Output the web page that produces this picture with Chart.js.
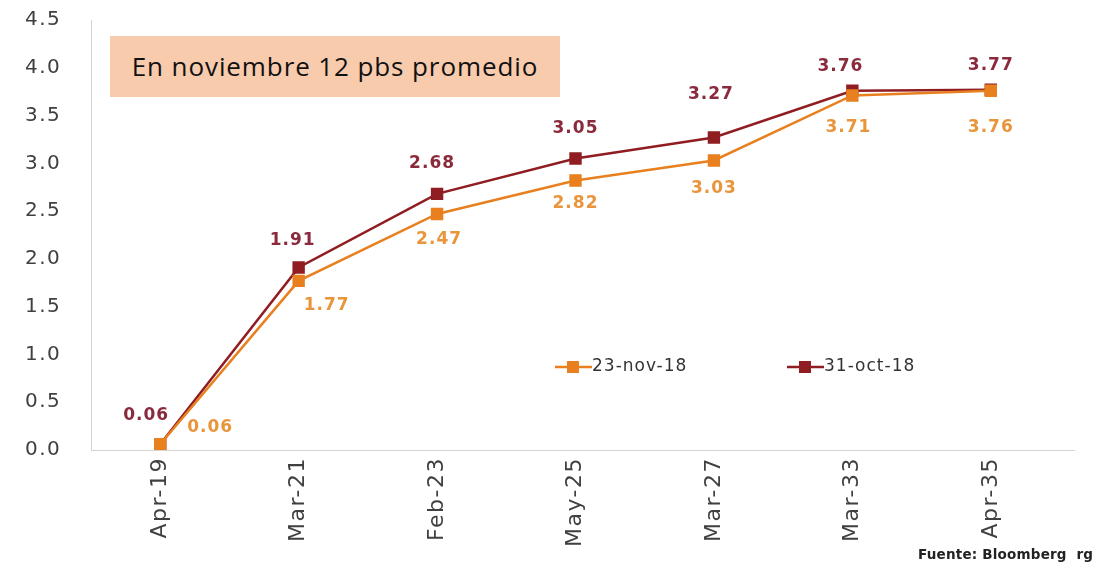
<html>
<head>
<meta charset="UTF-8">
<title>Curva de rendimientos</title>
<style>
  body { margin: 0; background: #fff; }
  #wrap { position: relative; width: 1101px; height: 568px; }
  #caja { position: absolute; left: 110px; top: 36px; width: 450px; height: 61px; background: #f8cbad;
          font-family: "Open Sans", sans-serif; font-size: 26px; color: #111; line-height: 61px; text-align: center;
          letter-spacing: 0.9px; }
  #fuente { position: absolute; left: 918px; top: 546px; font-family: "DejaVu Sans", sans-serif; font-weight: bold;
            font-size: 13.5px; color: #222; letter-spacing: 0.2px; }
</style>
</head>
<body>
<div id="wrap">
  <canvas id="myChart" width="1101" height="568"></canvas>
  <div id="caja">En noviembre 12 pbs promedio</div>
  <div id="fuente">Fuente: Bloomberg &nbsp;rg</div>
</div>

<script src="https://cdn.jsdelivr.net/npm/chart.js@4"></script>
<script>
// datos
var categorias = ['Apr-19', 'Mar-21', 'Feb-23', 'May-25', 'Mar-27', 'Mar-33', 'Apr-35'];
var nov23 = [0.06, 1.77, 2.47, 2.82, 3.03, 3.71, 3.76];
var oct31 = [0.06, 1.91, 2.68, 3.05, 3.27, 3.76, 3.77];
var serieNombres = ['23-nov-18', '31-oct-18'];

var naranja = '#e8801f';
var rojo = '#8f1d22';

// desplazamientos de las etiquetas (dx, dy) respecto al punto
var offNov = [[50, -17], [28, 25], [2, 26], [0, 23], [0, 28], [-4, 32], [0, 37]];
var offOct = [[-14, -29], [-6, -27], [-5, -30], [0, -30], [-3, -43], [-12, -24], [0, -24]];

// texto un poco mas ancho, como en la imagen original
var espaciado = {
  id: 'espaciado',
  beforeDraw: (chart) => { chart.ctx.letterSpacing = '1.5px'; }
};

var etiquetas = {
  id: 'etiquetas',
  afterDatasetsDraw: (chart) => {
    var ctx = chart.ctx;
    ctx.save();
    ctx.letterSpacing = '1px';
    ctx.font = 'bold 17px "DejaVu Sans"';
    ctx.textAlign = 'center';
    ctx.textBaseline = 'middle';
    [[0, offNov, '#e8953c'], [1, offOct, '#8a2a3c']].forEach(([i, offs, col]) => {
      var meta = chart.getDatasetMeta(i);
      ctx.fillStyle = col;
      meta.data.forEach((pt, j) => {
        var v = chart.data.datasets[i].data[j];
        ctx.fillText(v.toFixed(2), pt.x + offs[j][0], pt.y + offs[j][1]);
      });
    });
    // leyenda
    ctx.font = '17px "DejaVu Sans"';
    ctx.textAlign = 'left';
    [[555, naranja, serieNombres[0]], [787, rojo, serieNombres[1]]].forEach(([x, col, txt]) => {
      ctx.strokeStyle = col; ctx.lineWidth = 2.5;
      ctx.beginPath(); ctx.moveTo(x, 367); ctx.lineTo(x + 37, 367); ctx.stroke();
      ctx.fillStyle = col; ctx.fillRect(x + 12, 361, 12, 12);
      ctx.fillStyle = '#333';
      ctx.fillText(txt, x + 37, 367);
    });
    // extension del eje x
    ctx.strokeStyle = '#d4d4d4'; ctx.lineWidth = 1;
    ctx.beginPath(); ctx.moveTo(chart.chartArea.right, chart.chartArea.bottom + 0.5);
    ctx.lineTo(1075, chart.chartArea.bottom + 0.5); ctx.stroke();
    ctx.restore();
  }
};

var ctx = document.getElementById('myChart').getContext('2d');
var chart = new Chart(ctx, {
  type: 'line',
  data: {
    labels: categorias,
    datasets: [
      { label: serieNombres[0], data: nov23, borderColor: naranja, backgroundColor: naranja,
        borderWidth: 2.5, pointStyle: 'rect', pointRadius: 7, pointHoverRadius: 7, tension: 0 },
      { label: serieNombres[1], data: oct31, borderColor: rojo, backgroundColor: rojo,
        borderWidth: 2.5, pointStyle: 'rect', pointRadius: 7, pointHoverRadius: 7, tension: 0 }
    ]
  },
  options: {
    responsive: false,
    animation: false,
    layout: { padding: { top: 20, right: 41, left: 25, bottom: 0 } },
    plugins: { legend: { display: false }, tooltip: { enabled: false } },
    scales: {
      x: {
        offset: true,
        grid: { display: false, drawTicks: false },
        border: { color: '#d4d4d4' },
        ticks: { color: '#404040', font: { family: 'DejaVu Sans', size: 22 }, maxRotation: 90, minRotation: 90, padding: 7 },
        afterFit: (s) => { s.height = 118; }
      },
      y: {
        min: 0, max: 4.5,
        grid: { display: false, drawTicks: false },
        border: { color: '#d4d4d4' },
        ticks: { stepSize: 0.5, color: '#404040', font: { family: 'DejaVu Sans', size: 20 }, padding: 0,
                 crossAlign: 'far', callback: (v) => v.toFixed(1) },
        afterFit: (s) => { s.width = 66; }
      }
    }
  },
  plugins: [espaciado, etiquetas]
});
</script>
</body>
</html>
